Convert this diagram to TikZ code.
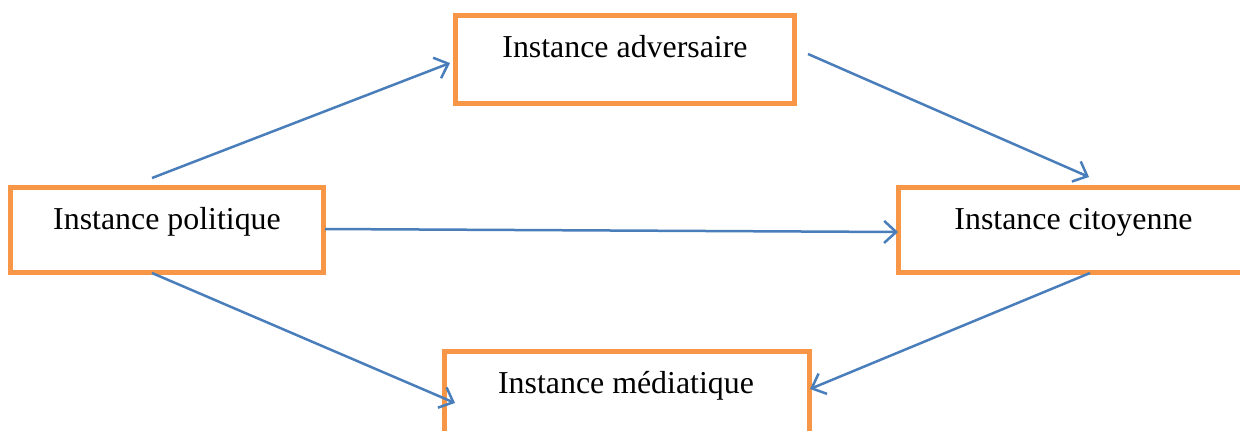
\documentclass[tikz,border=0pt]{standalone}
\usepackage{fontspec}
\setmainfont{Liberation Serif}
\usetikzlibrary{arrows.meta}
\definecolor{boxorange}{HTML}{F79646}
\definecolor{arrowblue}{HTML}{4A7EBB}
\tikzset{
  box/.style={draw=boxorange, line width=5bp, inner sep=0pt, fill=white},
  lbl/.style={inner sep=0pt, anchor=base, font=\fontsize{32}{38}\selectfont},
  conn/.style={draw=arrowblue, line width=2.5bp, -{Straight Barb[length=12bp, width=22bp, line width=2.5bp]}}
}
\begin{document}
\begin{tikzpicture}[x=1bp, y=-1bp]
\useasboundingbox (0,0) rectangle (1240,430);
\clip (0,0) rectangle (1240,430);
% boxes
\node[box, minimum width=339bp, minimum height=88bp] (adv) at (625,59.5) {};
\node[box, minimum width=313bp, minimum height=85bp] (pol) at (167,230) {};
\node[box, minimum width=360bp, minimum height=85bp] (cit) at (1078.5,230) {};
\node[box, minimum width=365bp, minimum height=88bp] (med) at (627,395.5) {};
% labels
\node[lbl] (advt) at (625,57) {Instance adversaire};
\node[lbl] (polt) at (167,229) {Instance politique};
\node[lbl] (citt) at (1073.5,229) {Instance citoyenne};
\node[lbl] (medt) at (626,393) {Instance médiatique};
% connector ends
\coordinate (a1s) at (152,178);
\coordinate (a1e) at (450,63);
\coordinate (a2s) at (808,54);
\coordinate (a2e) at (1089,177);
\coordinate (a3s) at (325,229);
\coordinate (a3e) at (898,232);
\coordinate (a4s) at (152,273);
\coordinate (a4e) at (455,403);
\coordinate (a5s) at (1090,273);
\coordinate (a5e) at (810,389);
\draw[conn] (a1s) -- (a1e);
\draw[conn] (a2s) -- (a2e);
\draw[conn] (a3s) -- (a3e);
\draw[conn] (a4s) -- (a4e);
\draw[conn] (a5s) -- (a5e);
\end{tikzpicture}
\end{document}
